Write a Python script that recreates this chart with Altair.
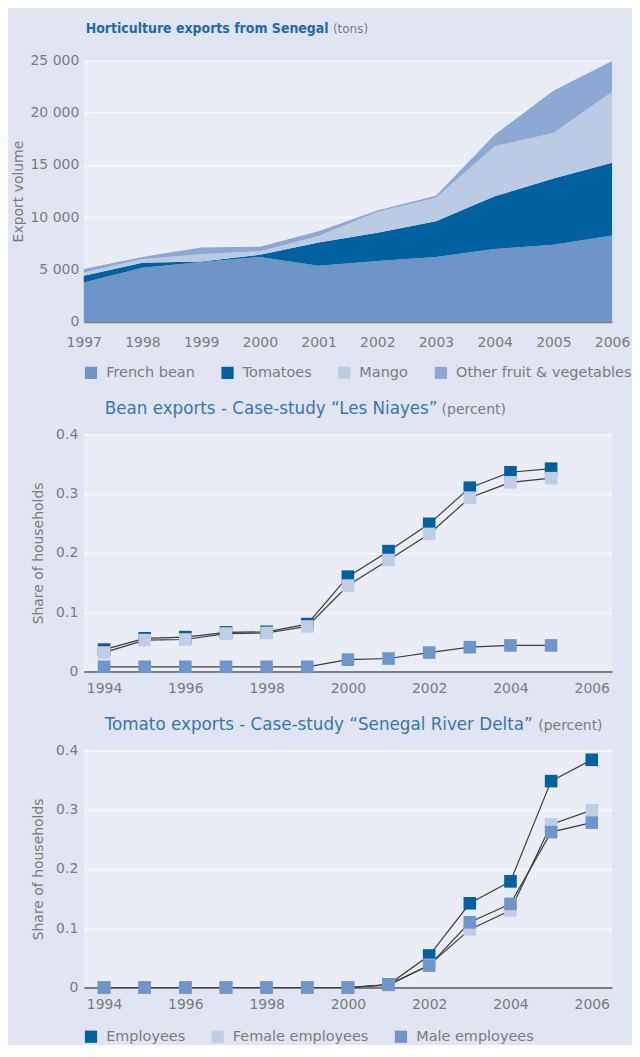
import altair as alt
import pandas as pd

# ---------------- data ----------------
years_exp = [1997, 1998, 1999, 2000, 2001, 2002, 2003, 2004, 2005, 2006]
products = ["French bean", "Tomatoes", "Mango", "Other fruit & vegetables"]
french_bean = [3750, 5150, 5700, 6200, 5350, 5800, 6200, 6950, 7350, 8250]
tomatoes = [650, 500, 50, 200, 2230, 2700, 3400, 5050, 6350, 6950]
mango = [300, 350, 700, 350, 620, 2000, 2250, 4800, 4350, 6800]
other_fv = [330, 200, 650, 420, 460, 150, 200, 1100, 4050, 2950]
exp_ticks = [0, 5000, 10000, 15000, 20000, 25000]

series = ["Employees", "Female employees", "Male employees"]

years_bean = [1994, 1995, 1996, 1997, 1998, 1999, 2000, 2001, 2002, 2003, 2004, 2005]
bean_emp = [0.037, 0.056, 0.058, 0.066, 0.067, 0.080, 0.160, 0.203, 0.249, 0.310, 0.336, 0.342]
bean_female = [0.032, 0.053, 0.054, 0.064, 0.065, 0.076, 0.145, 0.188, 0.232, 0.293, 0.319, 0.326]
bean_male = [0.008, 0.008, 0.008, 0.008, 0.008, 0.008, 0.020, 0.022, 0.032, 0.041, 0.044, 0.044]

years_tom = [1994, 1995, 1996, 1997, 1998, 1999, 2000, 2001, 2002, 2003, 2004, 2005, 2006]
tom_emp = [0, 0, 0, 0, 0, 0, 0, 0.005, 0.054, 0.142, 0.179, 0.348, 0.384]
tom_female = [0, 0, 0, 0, 0, 0, 0, 0.004, 0.038, 0.098, 0.130, 0.275, 0.299]
tom_male = [0, 0, 0, 0, 0, 0, 0, 0.005, 0.037, 0.110, 0.141, 0.262, 0.278]

share_xticks = [1994, 1996, 1998, 2000, 2002, 2004, 2006]
share_yticks = [0, 0.1, 0.2, 0.3, 0.4]

title1 = "Horticulture exports from Senegal"
title1_unit = "(tons)"
title2 = "Bean exports - Case-study \u201cLes Niayes\u201d"
title3 = "Tomato exports - Case-study \u201cSenegal River Delta\u201d"
unit_pct = "(percent)"

# ---------------- styles ----------------
FONT = "DejaVu Sans"
NARROW = "DejaVu Sans Condensed"
GRAY = "#7b7b7b"
BLUE_T = "#1f69ad"
BLUE_T2 = "#3676b6"
W = 530
H1 = 262
H2 = 238
prod_colors = ["#6e94c8", "#0061a1", "#bccbe4", "#8ba9d3"]
ser_colors = ["#0060a0", "#bfcde6", "#6f96ca"]

# ---------------- tables ----------------
rows = []
for vals, name, k in [(french_bean, products[0], 0), (tomatoes, products[1], 1),
                      (mango, products[2], 2), (other_fv, products[3], 3)]:
    for yr, v in zip(years_exp, vals):
        rows.append({"year": yr, "volume": v, "product": name, "k": k})
df_exp = pd.DataFrame(rows)


def share_df(years, lists):
    r = []
    for name, vals in zip(series, lists):
        for yr, v in zip(years, vals):
            r.append({"year": yr, "share": v, "series": name})
    return pd.DataFrame(r)


df_bean = share_df(years_bean, [bean_emp, bean_female, bean_male])
df_tom = share_df(years_tom, [tom_emp, tom_female, tom_male])


def text_layer(txt, x, y, size, color, font=FONT, weight="normal"):
    return alt.Chart(pd.DataFrame({"t": [txt]})).mark_text(
        align="left", baseline="alphabetic", font=font, fontSize=size,
        fontWeight=weight, color=color
    ).encode(text="t:N", x=alt.value(x), y=alt.value(y))


def legend(y):
    return alt.Legend(title=None, orient="none", legendX=0, legendY=y,
                      direction="horizontal", symbolType="square",
                      symbolSize=150, symbolStrokeWidth=0,
                      labelFont=FONT, labelFontSize=14.5, labelColor=GRAY,
                      labelOffset=8, columnPadding=25, labelLimit=400)


# ---------------- top chart ----------------
area = alt.Chart(df_exp).mark_area().encode(
    x=alt.X("year:Q", scale=alt.Scale(domain=[1997, 2006], nice=False, zero=False),
            axis=alt.Axis(values=years_exp, format="d", title=None, labelFlush=False,
                          labelOverlap=False, labelPadding=14, grid=False)),
    y=alt.Y("volume:Q", stack="zero", scale=alt.Scale(domain=[0, 25000], nice=False),
            axis=alt.Axis(values=exp_ticks, title="Export volume", titlePadding=4,
                          labelPadding=5,
                          labelExpr="replace(format(datum.value, ','), ',', ' ')")),
    color=alt.Color("product:N", scale=alt.Scale(domain=products, range=prod_colors),
                    legend=legend(H1 + 44)),
    order=alt.Order("k:Q"),
)
top = alt.layer(
    area,
    text_layer(title1, 2, -28, 14, BLUE_T, font=NARROW, weight="bold"),
    text_layer(title1_unit, 250, -28, 12, GRAY),
).properties(width=W, height=H1)


# ---------------- share charts ----------------
def share_chart(df, title, unit_x, title_y, show_legend):
    xenc = alt.X("year:Q", scale=alt.Scale(domain=[1993.5, 2006.5], nice=False, zero=False),
                 axis=alt.Axis(values=share_xticks, format="d", title=None, labelFlush=False,
                               labelOverlap=False, labelPadding=10, grid=False))
    yenc = alt.Y("share:Q", scale=alt.Scale(domain=[0, 0.4], nice=False),
                 axis=alt.Axis(values=share_yticks, title="Share of households",
                               titlePadding=10, labelPadding=6,
                               labelExpr="datum.value == 0 ? '0' : format(datum.value, '.1f')"))
    sc = alt.Scale(domain=series, range=ser_colors)
    if show_legend:
        col = alt.Color("series:N", scale=sc, legend=legend(H2 + 42))
    else:
        col = alt.Color("series:N", scale=sc, legend=None)
    lines = alt.Chart(df).mark_line(color="#3c3c3c", strokeWidth=1.2).encode(
        x=xenc, y=yenc, detail="series:N")
    pts = alt.Chart(df).mark_point(shape="square", filled=True, size=160, opacity=1).encode(
        x=xenc, y=yenc, color=col)
    return alt.layer(
        lines, pts,
        text_layer(title, 21, title_y, 16.8, BLUE_T2),
        text_layer(unit_pct, unit_x, title_y, 14, GRAY),
    ).properties(width=W, height=H2)


mid = share_chart(df_bean, title2, 359, -20, False)
bot = share_chart(df_tom, title3, 456, -20, True)

chart = alt.vconcat(top, mid, bot, spacing=22).resolve_scale(
    color="independent", x="independent", y="independent"
).properties(
    padding={"left": 4, "top": 12, "right": 0, "bottom": 0}
).configure(
    background="#e1e5f1"
).configure_view(
    fill="#eaedf6", strokeWidth=0
).configure_axis(
    labelFont=FONT, labelColor=GRAY, labelFontSize=14,
    titleFont=FONT, titleColor=GRAY, titleFontSize=14, titleFontWeight="normal",
    gridColor="#f8f9fc", gridWidth=1.5, domain=False, ticks=False
).configure_axisX(
    domain=True, domainColor="#7d7d7d", domainWidth=2
)

chart.save("out.html", embed_options={"renderer": "svg", "actions": False})
